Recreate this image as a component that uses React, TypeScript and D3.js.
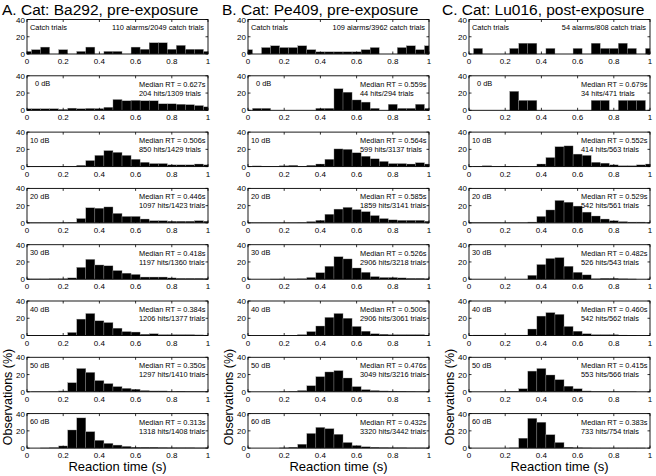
import React from "react";
import * as d3 from "d3";

// ---------- data ----------
const BIN_CENTERS = [0, 0.05, 0.1, 0.15, 0.2, 0.25, 0.3, 0.35, 0.4, 0.45, 0.5, 0.55, 0.6, 0.65, 0.7, 0.75, 0.8, 0.85, 0.9, 0.95, 1.0];
const X_TICKS = [0, 0.2, 0.4, 0.6, 0.8, 1];
const X_TICK_LABELS = ["0", "0.2", "0.4", "0.6", "0.8", "1"];
const Y_TICKS = [0, 20, 40];
const ROW_LABELS = ["Catch trials", "0 dB", "10 dB", "20 dB", "30 dB", "40 dB", "50 dB", "60 dB"];
const COLUMN_TITLES = ["A. Cat: Ba292, pre-exposure", "B. Cat: Pe409, pre-exposure", "C. Cat: Lu016, post-exposure"];

const A_CATCH = [3, 5, 8, 0, 5, 0, 3, 8, 0, 3, 3, 0, 8, 5.5, 13, 13, 5.5, 10, 5.5, 5.5, 3];
const A_0 = [1.8, 1.8, 1.8, 1.8, 1, 2.5, 1.8, 2.2, 2, 3.5, 12.5, 11, 11.5, 11, 11, 7.5, 7.5, 7, 6.5, 5.5, 4];
const A_10 = [0.3, 0.3, 0.5, 0.3, 0.5, 0.5, 1.5, 7, 13, 18.5, 16.5, 13, 8.5, 5, 3.5, 3.5, 2, 2, 2, 3, 2];
const A_20 = [0.3, 0.3, 0.3, 0.3, 0.5, 0.8, 5, 17.5, 17, 18.5, 11, 7.5, 7.5, 4.5, 2.5, 2.5, 2, 2, 2, 2.5, 2];
const A_30 = [0.3, 0.3, 0.3, 0.5, 0.5, 1.5, 13.7, 23, 16.5, 15.5, 10, 7, 5.5, 2.5, 2.5, 2.5, 1.5, 1, 1, 1, 0.8];
const A_40 = [0.3, 0.3, 0.3, 0.3, 0.3, 3.5, 19, 25.5, 17, 15, 8.5, 4.5, 4, 1.5, 2, 1, 1, 1, 1, 0.7, 0.5];
const A_50 = [0, 0.2, 0.2, 0.3, 1, 10.5, 27, 22.5, 13, 9.5, 6, 4, 3, 1.5, 1, 1, 0.5, 0.7, 0.5, 0.5, 0.3];
const A_60 = [0, 0, 0.2, 0.5, 2.5, 21, 35, 19, 9, 5.5, 3.5, 2, 1, 1, 1, 0.7, 0.5, 0.5, 0.5, 0.3, 0.3];

const B_CATCH = [5, 0, 7.5, 9.5, 7.5, 7.5, 9.5, 5, 2.5, 2.5, 2.5, 2.5, 2.5, 5, 7.5, 0, 0, 7.5, 9.5, 5, 9.5];
const B_0 = [0, 2.3, 2.3, 0, 0, 0, 0, 0, 2.3, 2.3, 25, 21, 12, 9.5, 2.3, 0, 7, 2.3, 2.3, 7, 2.3];
const B_10 = [0.3, 0.8, 0.5, 0.3, 1, 1.5, 0.5, 1.5, 3, 8.5, 20.5, 20, 16, 12, 9, 6, 3.5, 3.5, 3, 4.5, 3];
const B_20 = [0.3, 0.3, 0.3, 0.3, 0.3, 0.3, 0.5, 1.5, 3, 10, 16, 18, 15.5, 13, 8.5, 5, 3.5, 3, 3, 3, 2];
const B_30 = [0, 0, 0, 0.2, 0.3, 0.3, 0.5, 2, 7.5, 15, 26, 23.5, 13, 8, 3, 2, 2, 1.5, 1, 1, 0.5];
const B_40 = [0, 0, 0, 0, 0.2, 0.3, 1, 4.5, 11, 21, 25.5, 20, 10.5, 5, 2, 1.5, 1, 1, 1, 1, 0.5];
const B_50 = [0, 0, 0, 0, 0.2, 0.5, 1.5, 7, 17.5, 23, 24.5, 16, 6, 2.5, 1.5, 1, 0.8, 0.7, 0.5, 0.3, 0.3];
const B_60 = [0, 0, 0, 0, 0.3, 1, 4.5, 17, 24, 22.5, 16, 6.5, 3, 1.5, 1, 0.7, 0.5, 0.5, 0.3, 0.3, 0.2];

const C_CATCH = [0, 6.5, 0, 0, 0, 6.5, 12.5, 12.5, 0, 6.5, 0, 0, 6.5, 0, 12.5, 6.5, 6.5, 12.5, 6.5, 0, 6.5];
const C_0 = [0, 0, 0, 0, 0, 22, 11.5, 11.5, 0, 0, 0, 0, 0, 0, 11.5, 11.5, 0, 11.5, 11.5, 11.5, 0];
const C_10 = [0, 0.3, 1, 0.3, 0.5, 0.3, 0, 0, 3, 10.5, 23, 24, 14.5, 13, 5, 4, 2, 1, 1, 2, 3];
const C_20 = [0.5, 0.5, 0.5, 0.5, 0.3, 0.3, 0.3, 1, 7.5, 15, 26, 24, 19.5, 12.5, 8, 4.5, 2.5, 1.5, 1, 1, 0.5];
const C_30 = [0, 0, 0, 0, 0, 0, 0, 4.5, 17, 24, 25, 15, 8, 5, 0.5, 1, 1, 0.5, 0.3, 0, 0];
const C_40 = [0, 0.5, 0.5, 0.5, 0.5, 0.5, 0.5, 7.5, 22.5, 26.5, 24.5, 10.5, 5, 2, 1, 1, 1, 0.5, 0.3, 0, 0];
const C_50 = [0, 0, 0, 0, 0.3, 0.5, 3.5, 24, 27, 19.5, 14, 6.5, 3.5, 1, 0.5, 0.5, 0.3, 0.2, 0.2, 0, 0];
const C_60 = [0, 0, 0, 0, 0, 0.3, 11.5, 34.5, 30, 15.5, 6.5, 1, 0.5, 0.3, 0.2, 0.2, 0.2, 0.2, 0.2, 0.2, 0];

const A_MEDIANS = ["0.627", "0.506", "0.446", "0.418", "0.384", "0.350", "0.313"];
const B_MEDIANS = ["0.559", "0.564", "0.585", "0.526", "0.500", "0.476", "0.432"];
const C_MEDIANS = ["0.679", "0.552", "0.529", "0.482", "0.460", "0.415", "0.383"];

const A_COUNTS = ["204 hits/1309 trials", "850 hits/1429 trials", "1097 hits/1423 trials", "1197 hits/1360 trials", "1206 hits/1377 trials", "1297 hits/1410 trials", "1318 hits/1408 trials"];
const B_COUNTS = ["44 hits/294 trials", "599 hits/3137 trials", "1859 hits/3141 trials", "2906 hits/3218 trials", "2906 hits/3061 trials", "3049 hits/3216 trials", "3320 hits/3442 trials"];
const C_COUNTS = ["34 hits/471 trials", "414 hits/563 trials", "542 hits/561 trials", "526 hits/543 trials", "542 hits/562 trials", "553 hits/566 trials", "733 hits/754 trials"];

const CATCH_TEXT = ["110 alarms/2049 catch trials", "109 alarms/3962 catch trials", "54 alarms/808 catch trials"];

const COLUMNS = [
  { series: [A_CATCH, A_0, A_10, A_20, A_30, A_40, A_50, A_60], medians: A_MEDIANS, counts: A_COUNTS },
  { series: [B_CATCH, B_0, B_10, B_20, B_30, B_40, B_50, B_60], medians: B_MEDIANS, counts: B_COUNTS },
  { series: [C_CATCH, C_0, C_10, C_20, C_30, C_40, C_50, C_60], medians: C_MEDIANS, counts: C_COUNTS },
];

// ---------- layout ----------
const W = 656;
const H = 476;
const PANEL_LEFT = [27, 248, 469];
const TITLE_X = [2, 222, 442];
const PANEL_W = 181;
const PANEL_TOP0 = 19.5;
const ROW_STEP = 56.3;
const PANEL_H = 34.5;
const BIN_W = 0.05;
const FONT = "'Liberation Sans', Arial, Helvetica, sans-serif";

function Panel({ left, top, values, row, colIdx }: any) {
  const x = d3.scaleLinear().domain([0, 1]).range([left, left + PANEL_W]);
  const y = d3.scaleLinear().domain([0, 40]).range([top + PANEL_H, top]);
  const col = COLUMNS[colIdx];
  const bars = BIN_CENTERS.map((c, i) => {
    const v = values[i];
    if (!v) return null;
    const x0 = x(Math.max(0, c - BIN_W / 2));
    const x1 = x(Math.min(1, c + BIN_W / 2));
    return (
      <rect
        key={i}
        x={x0}
        y={y(v)}
        width={Math.max(0, x1 - x0)}
        height={y(0) - y(v)}
        fill="#000"
        stroke="#9a9a9a"
        strokeWidth={0.35}
      />
    );
  });
  const tick = 2.5;
  return (
    <g>
      {bars}
      <rect x={left} y={top} width={PANEL_W} height={PANEL_H} fill="none" stroke="#000" strokeWidth={0.9} />
      {X_TICKS.map((t, i) => (
        <g key={"xt" + i}>
          <line x1={x(t)} x2={x(t)} y1={y(0)} y2={y(0) - tick} stroke="#000" strokeWidth={0.8} />
          <line x1={x(t)} x2={x(t)} y1={y(40)} y2={y(40) + tick} stroke="#000" strokeWidth={0.8} />
          <text x={x(t)} y={y(0) + 10} fontSize={8} textAnchor="middle" fontFamily={FONT}>
            {X_TICK_LABELS[i]}
          </text>
        </g>
      ))}
      {Y_TICKS.map((t, i) => (
        <g key={"yt" + i}>
          <line x1={left} x2={left + tick} y1={y(t)} y2={y(t)} stroke="#000" strokeWidth={0.8} />
          <line x1={left + PANEL_W} x2={left + PANEL_W - tick} y1={y(t)} y2={y(t)} stroke="#000" strokeWidth={0.8} />
          <text x={left - 2} y={y(t) + 3} fontSize={8} textAnchor="end" fontFamily={FONT}>
            {String(t)}
          </text>
        </g>
      ))}
      <text
        x={left + (row === 1 ? 8 : 3)}
        y={top + 10.5}
        fontSize={7.4}
        fontFamily={FONT}
      >
        {ROW_LABELS[row]}
      </text>
      {row === 0 ? (
        <text x={left + PANEL_W - 4} y={top + 10.5} fontSize={7.4} textAnchor="end" fontFamily={FONT}>
          {CATCH_TEXT[colIdx]}
        </text>
      ) : (
        <g>
          <text x={left + 112} y={top + 11} fontSize={7.4} fontFamily={FONT}>
            {`Median RT = ${col.medians[row - 1]}s`}
          </text>
          <text x={left + 112} y={top + 20} fontSize={7.4} fontFamily={FONT}>
            {col.counts[row - 1]}
          </text>
        </g>
      )}
    </g>
  );
}

export default function App() {
  return (
    <svg
      width={W}
      height={H}
      style={{ position: "absolute", left: 0, top: 0, background: "#fff" }}
    >
      <rect x={0} y={0} width={W} height={H} fill="#fff" />
      {COLUMNS.map((col, ci) => {
        const left = PANEL_LEFT[ci];
        const lastBottom = PANEL_TOP0 + ROW_STEP * 7 + PANEL_H;
        return (
          <g key={ci}>
            <text x={TITLE_X[ci]} y={14.5} fontSize={15.5} fontFamily={FONT}>
              {COLUMN_TITLES[ci]}
            </text>
            {col.series.map((vals, r) => (
              <Panel
                key={r}
                left={left}
                top={PANEL_TOP0 + ROW_STEP * r}
                values={vals}
                row={r}
                colIdx={ci}
              />
            ))}
            <text
              transform={`translate(${left - 15.5},397) rotate(-90)`}
              fontSize={12.5}
              textAnchor="middle"
              fontFamily={FONT}
            >
              Observations (%)
            </text>
            <text
              x={left + PANEL_W / 2}
              y={lastBottom + 23}
              fontSize={13}
              textAnchor="middle"
              fontFamily={FONT}
            >
              Reaction time (s)
            </text>
          </g>
        );
      })}
    </svg>
  );
}
